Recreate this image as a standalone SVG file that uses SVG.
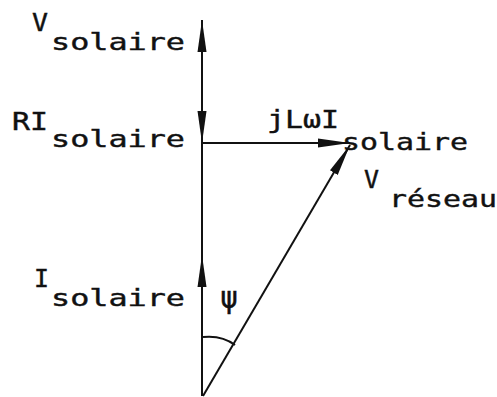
<svg xmlns="http://www.w3.org/2000/svg" width="497" height="397" viewBox="0 0 497 397">
<style>
.t{font-family:"DejaVu Sans Mono","Liberation Mono",monospace;fill:#111;stroke:#111;stroke-width:0.4;}
.big{font-size:24px;}
.sub{font-size:23px;}
.v{stroke:#111;stroke-width:2;fill:none;}
</style>
<defs>
<marker id="ah" markerUnits="userSpaceOnUse" markerWidth="34" markerHeight="12" refX="32" refY="5" orient="auto">
<path d="M0,0.5 L32,5 L0,9.5 Z" fill="#111"/>
</marker>
</defs>
<rect width="497" height="397" fill="#fff"/>
<g id="connectors">
<path class="v" d="M202,396 L202,20" marker-end="url(#ah)"/>
<path class="v" d="M202,20 L202,143" marker-end="url(#ah)"/>
<path class="v" d="M202,396 L202,255" marker-end="url(#ah)"/>
<path class="v" d="M202,143 L350,143" marker-end="url(#ah)"/>
<path class="v" d="M203,396 L350,145" marker-end="url(#ah)"/>
<path class="v" d="M203,337 Q222,335 235,345"/>
</g>
<g id="v-solaire">
<text class="t big" x="32" y="31" textLength="16" lengthAdjust="spacingAndGlyphs">V</text>
<text class="t sub" x="51" y="50" textLength="134" lengthAdjust="spacingAndGlyphs">solaire</text>
</g>
<g id="ri-solaire">
<text class="t big" x="12" y="130" textLength="36" lengthAdjust="spacingAndGlyphs">RI</text>
<text class="t sub" x="51" y="147" textLength="134" lengthAdjust="spacingAndGlyphs">solaire</text>
</g>
<g id="jlwi-solaire">
<text class="t big" x="267" y="128" textLength="72" lengthAdjust="spacingAndGlyphs">jLωI</text>
<text class="t sub" x="342" y="150" textLength="126" lengthAdjust="spacingAndGlyphs">solaire</text>
</g>
<g id="v-reseau">
<text class="t big" x="364" y="188" textLength="15" lengthAdjust="spacingAndGlyphs">V</text>
<text class="t sub" x="389" y="207" textLength="108" lengthAdjust="spacingAndGlyphs">réseau</text>
</g>
<g id="i-solaire">
<text class="t big" x="34" y="287" textLength="15" lengthAdjust="spacingAndGlyphs">I</text>
<text class="t sub" x="51" y="306" textLength="134" lengthAdjust="spacingAndGlyphs">solaire</text>
</g>
<g id="psi">
<text class="t" x="220" y="308" font-size="30" stroke-width="0.2">ψ</text>
</g>
</svg>
